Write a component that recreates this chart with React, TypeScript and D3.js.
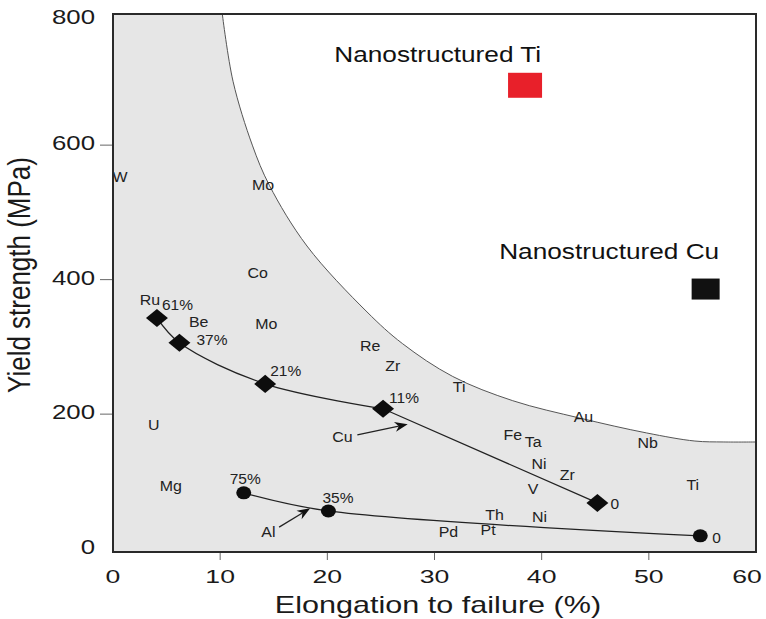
import React from "react";
import * as d3 from "d3";

// ---------- data ----------
const xTicks = [0, 10, 20, 30, 40, 50, 60];
const yTicks = [0, 200, 400, 600, 800];

// Cu series (diamonds)
const cuElong = [4.1, 6.2, 14.2, 25.2, 45.2];
const cuYield = [343, 306, 245, 208, 68];
const cuLabels = ["61%", "37%", "21%", "11%", "0"];

// Al series (circles)
const alElong = [12.2, 20.1, 54.8];
const alYield = [83, 56, 19];
const alLabels = ["75%", "35%", "0"];

// envelope boundary of conventional metals
const envelopeX = [10.2, 11.2, 13.0, 14.6, 18.1, 23.7, 27.0, 31.7, 37.3, 43.6, 49.8, 54.3, 57.0, 60];
const envelopeY = [795, 695, 600, 540, 450, 352, 305, 256, 220, 194, 172, 160, 158.6, 158.6];

// element labels
const elementNames = ["W", "Mo", "Co", "Ru", "Be", "Mo", "Re", "Zr", "Ti", "U", "Au", "Fe", "Ta", "Nb", "Ni", "Zr", "V", "Ti", "Mg", "Th", "Ni", "Pd", "Pt"];
const elementX = [0.65, 14.0, 13.5, 3.45, 8.0, 14.3, 24.0, 26.1, 32.3, 3.8, 43.9, 37.3, 39.2, 49.9, 39.75, 42.4, 39.2, 54.1, 5.4, 35.6, 39.8, 31.3, 35.0];
const elementY = [553, 541, 410, 370, 338, 335, 301, 272, 240, 184, 196, 169, 159, 157, 126, 110, 89, 95, 93, 50, 47, 25, 28];

// nanostructured materials
const nanoNames = ["Nanostructured Ti", "Nanostructured Cu"];
const nanoElong = [38.45, 55.3];
const nanoYield = [689, 386];
const nanoColors = ["#e8202a", "#111111"];
const nanoLabelX = [30.3, 46.3];
const nanoLabelY = [724, 431];

// series pointer labels and arrows
const pointerNames = ["Cu", "Al"];
const pointerLabelX = [21.4, 14.5];
const pointerLabelY = [166, 25];
const arrowFromX = [22.8, 15.5];
const arrowFromY = [169, 32];
const arrowToX = [27.5, 18.4];
const arrowToY = [185, 60];

// ---------- layout ----------
const W = 766;
const H = 619;
const FONT = "'Liberation Sans', Arial, Helvetica, sans-serif";
const cuLabelOffsets = [[5, -13], [17, -3], [5, -13], [6, -11], [13, 1]];
const alLabelOffsets = [[-14, -14], [-6, -13], [12, 2]];
const nanoSize = [[34, 25], [28, 21]];

function T({ x, y, size, sx = 1, anchor = "middle", baseline = "auto", rotate = 0, fill = "#1a1a1a", children }: any) {
  const tr = `translate(${x},${y}) scale(${sx},1)` + (rotate ? ` rotate(${rotate})` : "");
  return (
    <text transform={tr} fontSize={size} textAnchor={anchor} dominantBaseline={baseline} fill={fill}>
      {children}
    </text>
  );
}

function Arrow({ x1, y1, x2, y2 }: any) {
  const dx = x2 - x1, dy = y2 - y1;
  const len = Math.hypot(dx, dy);
  const ux = dx / len, uy = dy / len;
  const nx = -uy, ny = ux;
  const L = 13, w = 5;
  const bx = x2 - L * ux, by = y2 - L * uy;
  const nxp = x2 - 0.7 * L * ux, nyp = y2 - 0.7 * L * uy;
  const head = `M${x2},${y2} L${bx + w * nx},${by + w * ny} L${nxp},${nyp} L${bx - w * nx},${by - w * ny} Z`;
  return (
    <g>
      <line x1={x1} y1={y1} x2={nxp} y2={nyp} stroke="#222" strokeWidth={1.3} />
      <path d={head} fill="#111" />
    </g>
  );
}

export default function App() {
  const x = d3.scaleLinear().domain([0, 60]).range([113, 756]);
  const y = d3.scaleLinear().domain([-5, 795]).range([552, 14]);
  const [x0, x1] = x.range();
  const [yb, yt] = y.range();

  const env = envelopeX.map((v, i) => [v, envelopeY[i]] as [number, number]);
  const envLine = d3.line<[number, number]>().x(d => x(d[0])).y(d => y(d[1])).curve(d3.curveCatmullRom.alpha(0.5));
  const envPath = envLine(env) as string;
  const whiteArea = envPath + `L${x1},${yt}L${x(envelopeX[0])},${yt}Z`;

  const cuPts = cuElong.map((v, i) => [x(v), y(cuYield[i])] as [number, number]);
  const alPts = alElong.map((v, i) => [x(v), y(alYield[i])] as [number, number]);
  const smooth = d3.line<[number, number]>().curve(d3.curveCatmullRom.alpha(0.5));
  const straight = d3.line<[number, number]>();
  // Cu: smooth through the rolled states, straight to the annealed state
  const cuPath = (smooth(cuPts.slice(0, 4)) as string) + (straight(cuPts.slice(3)) as string).replace(/^M/, "L");
  const alPath = smooth(alPts) as string;

  const diamond = d3.symbol().type(d3.symbolSquare).size(162)() as string;

  return (
    <svg width={W} height={H} style={{ position: "absolute", left: 0, top: 0, fontFamily: FONT }}>
      <defs>
        <clipPath id="plot">
          <rect x={x0} y={yt} width={x1 - x0} height={yb - yt} />
        </clipPath>
      </defs>
      {/* background */}
      <rect x={x0} y={yt} width={x1 - x0} height={yb - yt} fill="#e6e6e6" />
      <path d={whiteArea} fill="#ffffff" clipPath="url(#plot)" />
      <path d={envPath} fill="none" stroke="#555" strokeWidth={1} clipPath="url(#plot)" />

      {/* element labels */}
      {elementNames.map((n, i) => (
        <T key={"el" + i} x={x(elementX[i])} y={y(elementY[i])} size={14.5} sx={1.1} baseline="central" fill="#222">
          {n}
        </T>
      ))}

      {/* series lines */}
      <path d={cuPath} fill="none" stroke="#222" strokeWidth={1.3} />
      <path d={alPath} fill="none" stroke="#222" strokeWidth={1.3} />

      {/* markers */}
      {cuPts.map((p, i) => (
        <path key={"cu" + i} d={diamond} transform={`translate(${p[0]},${p[1]}) scale(1.22,1) rotate(45)`} fill="#0d0d0d" />
      ))}
      {alPts.map((p, i) => (
        <ellipse key={"al" + i} cx={p[0]} cy={p[1]} rx={7.5} ry={6.5} fill="#0d0d0d" />
      ))}

      {/* percent labels */}
      {cuPts.map((p, i) => (
        <T key={"cul" + i} x={p[0] + cuLabelOffsets[i][0]} y={p[1] + cuLabelOffsets[i][1]} size={14.5} sx={1.07} anchor="start" baseline="central" fill="#222">
          {cuLabels[i]}
        </T>
      ))}
      {alPts.map((p, i) => (
        <T key={"all" + i} x={p[0] + alLabelOffsets[i][0]} y={p[1] + alLabelOffsets[i][1]} size={14.5} sx={1.07} anchor="start" baseline="central" fill="#222">
          {alLabels[i]}
        </T>
      ))}

      {/* pointers */}
      {pointerNames.map((n, i) => (
        <g key={"ptr" + i}>
          <T x={x(pointerLabelX[i])} y={y(pointerLabelY[i])} size={14.5} sx={1.1} baseline="central" fill="#222">
            {n}
          </T>
          <Arrow x1={x(arrowFromX[i])} y1={y(arrowFromY[i])} x2={x(arrowToX[i])} y2={y(arrowToY[i])} />
        </g>
      ))}

      {/* nanostructured materials */}
      {nanoNames.map((n, i) => (
        <g key={"nano" + i}>
          <rect
            x={x(nanoElong[i]) - nanoSize[i][0] / 2}
            y={y(nanoYield[i]) - nanoSize[i][1] / 2}
            width={nanoSize[i][0]}
            height={nanoSize[i][1]}
            fill={nanoColors[i]}
          />
          <T x={x(nanoLabelX[i])} y={y(nanoLabelY[i])} size={21.5} sx={1.22} fill="#111">
            {n}
          </T>
        </g>
      ))}

      {/* frame */}
      <rect x={x0} y={yt} width={x1 - x0} height={yb - yt} fill="none" stroke="#2a2a2a" strokeWidth={2} />

      {/* x axis ticks */}
      {xTicks.filter(v => v > 0 && v < 60).map(v => (
        <line key={"xt" + v} x1={x(v)} x2={x(v)} y1={yb + 1} y2={yb + 8} stroke="#666" strokeWidth={1} />
      ))}
      {xTicks.map(v => (
        <T key={"xl" + v} x={Math.min(x(v), W - 19)} y={583} size={19} sx={1.4} fill="#1a1a1a">
          {v}
        </T>
      ))}

      {/* y axis ticks */}
      {yTicks.filter(v => v > 0 && v < 800).map(v => (
        <line key={"yt" + v} x1={x0 - 13} x2={x0 - 1} y1={y(v)} y2={y(v)} stroke="#666" strokeWidth={1} />
      ))}
      {yTicks.map(v => (
        <T key={"yl" + v} x={95} y={Math.max(y(v) - 2, 17)} size={20} sx={1.29} anchor="end" baseline="central" fill="#1a1a1a">
          {v}
        </T>
      ))}

      {/* axis titles */}
      <T x={438} y={613} size={23} sx={1.33} fill="#1a1a1a">
        Elongation to failure (%)
      </T>
      <T x={30} y={275} size={26} sx={1.19} rotate={-90} fill="#1a1a1a">
        Yield strength (MPa)
      </T>
    </svg>
  );
}
